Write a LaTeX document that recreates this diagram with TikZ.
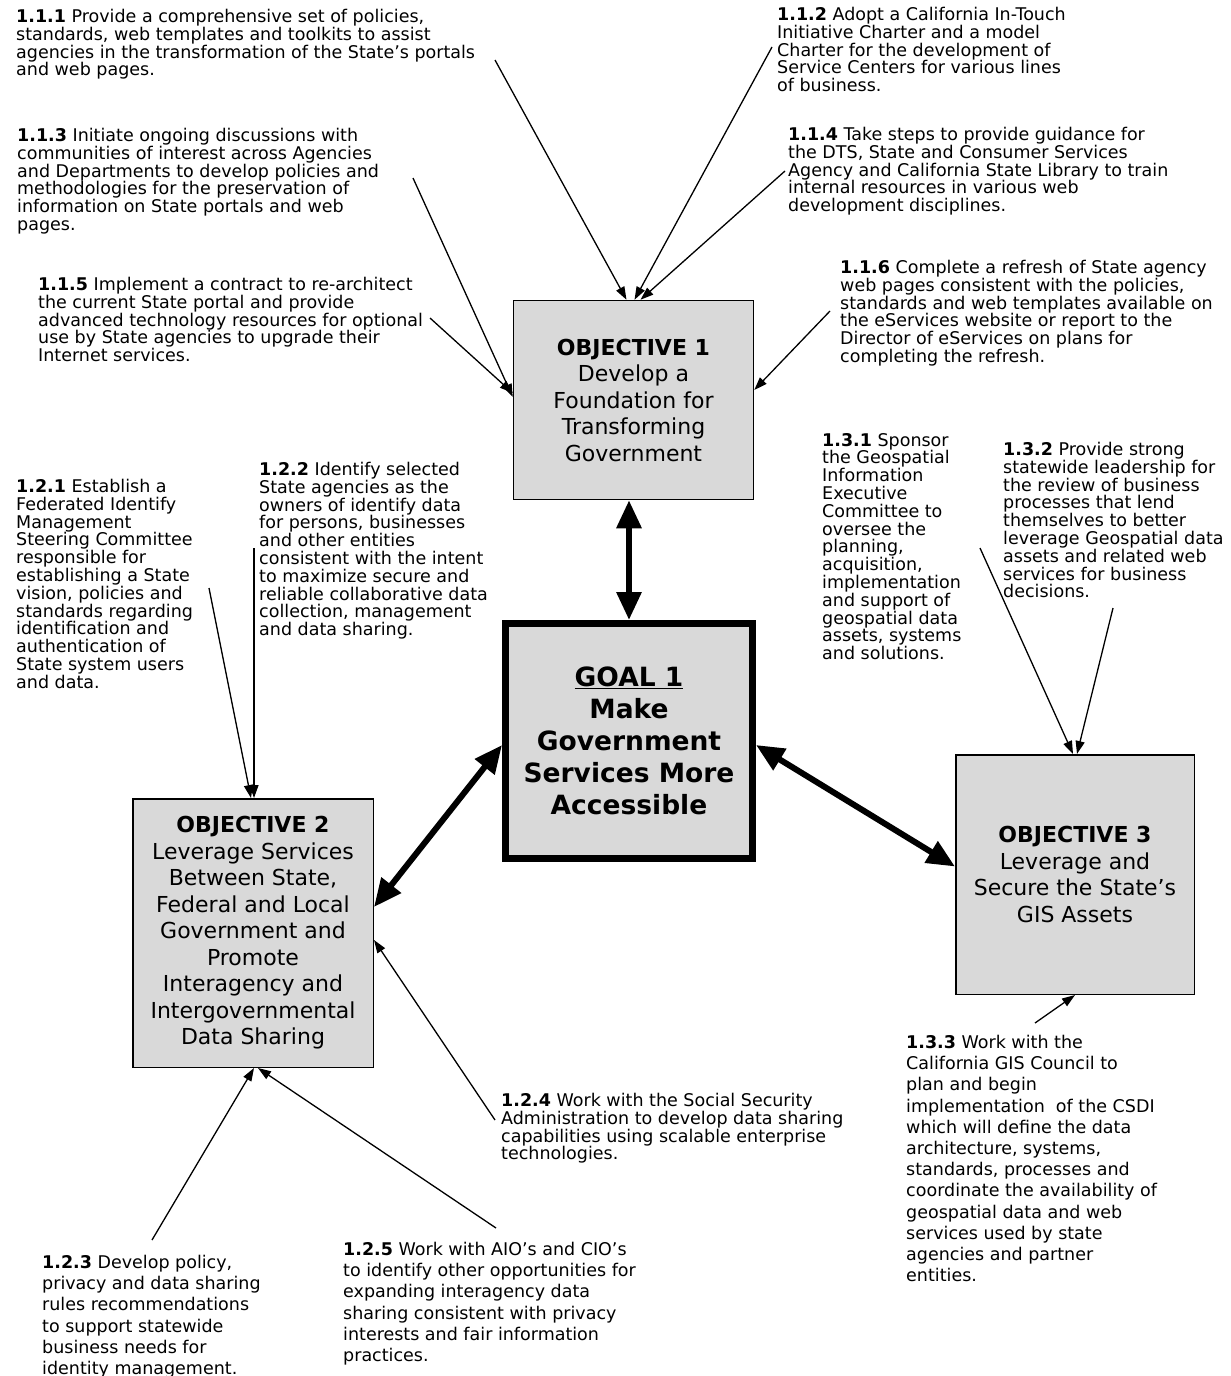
\documentclass[tikz,border=0pt]{standalone}
\usepackage{fontspec}
\setmainfont{DejaVu Sans}
\usetikzlibrary{arrows.meta}

\definecolor{boxgray}{HTML}{D9D9D9}

\tikzstyle{obj} = [rectangle, draw=black, line width=1.5pt, fill=boxgray, align=center, inner sep=0pt, font=\fontsize{22}{26.5}\selectfont]
\tikzstyle{goal} = [rectangle, draw=black, line width=7pt, fill=boxgray, align=center, inner sep=0pt, font=\bfseries\fontsize{26.5}{32}\selectfont]
\tikzstyle{act} = [anchor=north west, align=left, inner sep=0pt, font=\fontsize{17.5}{17.8}\selectfont]
\tikzstyle{actwide} = [act, font=\fontsize{17.5}{21.2}\selectfont]
\tikzstyle{link} = [-{Triangle[length=13pt,width=9pt]}, line width=1.3pt]
\tikzstyle{biglink} = [{Triangle[length=28pt,width=24pt]}-{Triangle[length=28pt,width=24pt]}, line width=6pt]

\begin{document}
\begin{tikzpicture}[x=1pt,y=-1pt]
\useasboundingbox (0,0) rectangle (1231,1376);

% goal and objectives
\node[goal] (Goal) [minimum width=247pt, minimum height=235pt] at (629,741)
  {\underline{GOAL 1}\\ Make\\ Government\\ Services More\\ Accessible};
\node[obj] (Obj1) [minimum width=240pt, minimum height=199pt] at (633.5,400)
  {\textbf{OBJECTIVE 1}\\ Develop a\\ Foundation for\\ Transforming\\ Government};
\node[obj] (Obj2) [minimum width=240.5pt, minimum height=268.5pt] at (253,933)
  {\textbf{OBJECTIVE 2}\\ Leverage Services\\ Between State,\\ Federal and Local\\ Government and\\ Promote\\ Interagency and\\ Intergovernmental\\ Data Sharing};
\node[obj] (Obj3) [minimum width=238.5pt, minimum height=239.5pt] at (1075,874.5)
  {\textbf{OBJECTIVE 3}\\ Leverage and\\ Secure the State’s\\ GIS Assets};

% actions of objective 1
\node[act] (A111) at (16,9) {\textbf{1.1.1} Provide a comprehensive set of policies,\\ standards, web templates and toolkits to assist\\ agencies in the transformation of the State’s portals\\ and web pages.};
\node[act] (A112) at (777,7) {\textbf{1.1.2} Adopt a California In-Touch\\ Initiative Charter and a model\\ Charter for the development of\\ Service Centers for various lines\\ of business.};
\node[act] (A113) at (17,128) {\textbf{1.1.3} Initiate ongoing discussions with\\ communities of interest across Agencies\\ and Departments to develop policies and\\ methodologies for the preservation of\\ information on State portals and web\\ pages.};
\node[act] (A114) at (788,127) {\textbf{1.1.4} Take steps to provide guidance for\\ the DTS, State and Consumer Services\\ Agency and California State Library to train\\ internal resources in various web\\ development disciplines.};
\node[act] (A115) at (38,277) {\textbf{1.1.5} Implement a contract to re-architect\\ the current State portal and provide\\ advanced technology resources for optional\\ use by State agencies to upgrade their\\ Internet services.};
\node[act] (A116) at (840,260) {\textbf{1.1.6} Complete a refresh of State agency\\ web pages consistent with the policies,\\ standards and web templates available on\\ the eServices website or report to the\\ Director of eServices on plans for\\ completing the refresh.};

% actions of objective 2
\node[act] (A121) at (16,479) {\textbf{1.2.1} Establish a\\ Federated Identify\\ Management\\ Steering Committee\\ responsible for\\ establishing a State\\ vision, policies and\\ standards regarding\\ identification and\\ authentication of\\ State system users\\ and data.};
\node[act] (A122) at (259,462) {\textbf{1.2.2} Identify selected\\ State agencies as the\\ owners of identify data\\ for persons, businesses\\ and other entities\\ consistent with the intent\\ to maximize secure and\\ reliable collaborative data\\ collection, management\\ and data sharing.};
\node[actwide] (A123) at (42,1255) {\textbf{1.2.3} Develop policy,\\ privacy and data sharing\\ rules recommendations\\ to support statewide\\ business needs for\\ identity management.};
\node[act] (A124) at (501,1093) {\textbf{1.2.4} Work with the Social Security\\ Administration to develop data sharing\\ capabilities using scalable enterprise\\ technologies.};
\node[actwide] (A125) at (343,1242) {\textbf{1.2.5} Work with AIO’s and CIO’s\\ to identify other opportunities for\\ expanding interagency data\\ sharing consistent with privacy\\ interests and fair information\\ practices.};

% actions of objective 3
\node[act] (A131) at (822,433) {\textbf{1.3.1} Sponsor\\ the Geospatial\\ Information\\ Executive\\ Committee to\\ oversee the\\ planning,\\ acquisition,\\ implementation\\ and support of\\ geospatial data\\ assets, systems\\ and solutions.};
\node[act] (A132) at (1003,442) {\textbf{1.3.2} Provide strong\\ statewide leadership for\\ the review of business\\ processes that lend\\ themselves to better\\ leverage Geospatial data\\ assets and related web\\ services for business\\ decisions.};
\node[actwide] (A133) at (906,1035) {\textbf{1.3.3} Work with the\\ California GIS Council to\\ plan and begin\\ implementation\ \ of the CSDI\\ which will define the data\\ architecture, systems,\\ standards, processes and\\ coordinate the availability of\\ geospatial data and web\\ services used by state\\ agencies and partner\\ entities.};

% where the lines leave the texts
\coordinate (T111) at (495,60);
\coordinate (T112) at (772,47);
\coordinate (T113) at (413,178);
\coordinate (T114) at (785,171);
\coordinate (T115) at (430,318);
\coordinate (T116) at (830,311);
\coordinate (T121) at (209,588);
\coordinate (T122) at (254,548);
\coordinate (T123) at (152,1240);
\coordinate (T124) at (495,1120);
\coordinate (T125) at (496,1228);
\coordinate (T131) at (980,548);
\coordinate (T132) at (1113,608);
\coordinate (T133) at (1035,1023);

\path
  (T111) edge[link] ([xshift=-7pt]Obj1.north)
  (T112) edge[link] ([xshift=1pt]Obj1.north)
  (T114) edge[link] ([xshift=7pt]Obj1.north)
  (T113) edge[link] ([yshift=3pt]Obj1.west)
  (T115) edge[link] ([yshift=7pt]Obj1.west)
  (T116) edge[link] ([yshift=10pt]Obj1.east)
  (T121) edge[link] ([xshift=-2pt]Obj2.north)
  (T122) edge[link] ([xshift=1pt]Obj2.north)
  (T123) edge[link] ([xshift=1pt]Obj2.south)
  (T125) edge[link] ([xshift=5pt]Obj2.south)
  (T124) edge[link] ([yshift=-7pt]Obj2.east)
  (T131) edge[link] ([xshift=-2pt]Obj3.north)
  (T132) edge[link] ([xshift=2pt]Obj3.north)
  (T133) edge[link] (Obj3.south)
  ;

\path
  (Goal.north) edge[biglink] (Goal.north |- Obj1.south)
  ([yshift=-4pt]Goal.west) edge[biglink] ([yshift=26pt]Obj2.east)
  ([yshift=-4pt]Goal.east) edge[biglink] ([yshift=8pt]Obj3.west)
  ;

\end{tikzpicture}
\end{document}
